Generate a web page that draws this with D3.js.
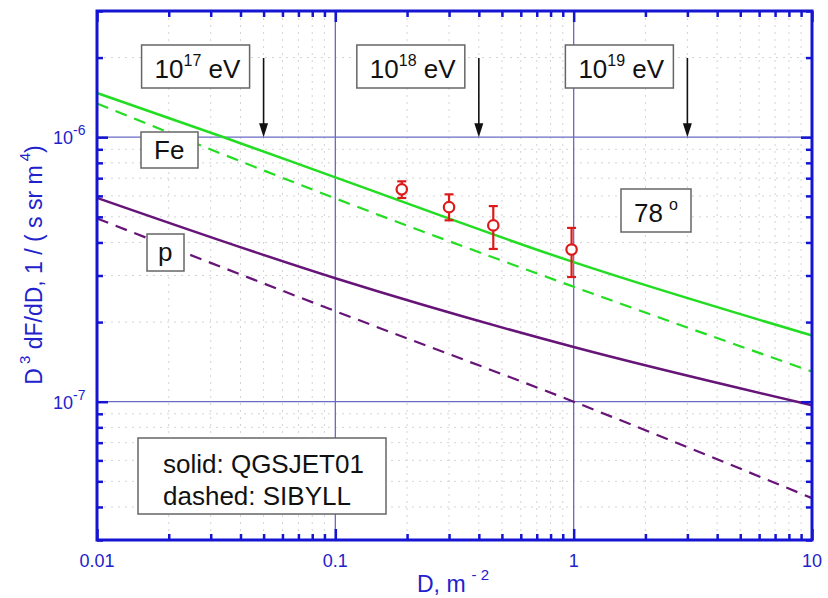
<!DOCTYPE html>
<html>
<head>
<meta charset="utf-8">
<script src="https://cdn.jsdelivr.net/npm/d3@7"></script>
<style>
  body { margin: 0; background: #fff; }
  svg { display: block; font-family: "Liberation Sans", Arial, sans-serif; }
</style>
</head>
<body>
<svg id="chart" width="828" height="598"></svg>
<script>
// model curves, D in m^-2, flux D^3 dF/dD
const feSolidD = [0.01, 0.034, 0.1, 1, 10];
const feSolid = [1.47e-6, 1.0e-6, 7.05e-7, 3.37e-7, 1.78e-7];
const feDashedD = [0.01, 0.1, 1, 10];
const feDashed = [1.34e-6, 5.87e-7, 2.72e-7, 1.30e-7];
const pSolidD = [0.01, 0.1, 1, 10];
const pSolid = [5.9e-7, 2.93e-7, 1.61e-7, 9.7e-8];
const pDashedD = [0.01, 0.1, 1, 10];
const pDashed = [4.93e-7, 2.2e-7, 1.0e-7, 4.32e-8];

// measured points with errors
const dataD = [0.19, 0.30, 0.46, 0.98];
const dataFlux = [6.35e-7, 5.44e-7, 4.64e-7, 3.76e-7];
const dataHi = [6.81e-7, 6.08e-7, 5.49e-7, 4.54e-7];
const dataLo = [5.89e-7, 4.85e-7, 3.78e-7, 2.96e-7];

// energy markers
const energyExp = ["17", "18", "19"];
const energyD = [0.05, 0.4, 3];

const xMajor = [0.01, 0.1, 1, 10];
const xMajorLabels = ["0.01", "0.1", "1", "10"];
const yMajor = [1e-7, 1e-6];
const yMajorExp = ["-7", "-6"];

const blue = "#1414d2";
const textBlue = "#2222cc";
const green = "#22dd22";
const purple = "#661477";
const red = "#dd1a1a";

const svg = d3.select("#chart");
const pLeft = 97, pRight = 812, pTop = 11, pBottom = 540;

const x = d3.scaleLog().domain([0.01, 10]).range([pLeft, pRight]);
const y = d3.scaleLog().domain([3e-8, 3e-6]).range([pBottom, pTop]);

function minors(lo, hi) {
  const out = [];
  for (let e = Math.floor(Math.log10(lo)); e <= Math.ceil(Math.log10(hi)); e++) {
    for (let m = 2; m <= 9; m++) {
      const v = m * Math.pow(10, e);
      if (v >= lo * 0.999 && v <= hi * 1.001) out.push(v);
    }
  }
  return out;
}
const xMinor = minors(0.01, 10);
const yMinor = minors(3e-8, 3e-6);

// minor grid
const grid = svg.append("g");
grid.selectAll(".gx").data(xMinor).enter().append("line")
  .attr("x1", d => x(d)).attr("x2", d => x(d))
  .attr("y1", pTop).attr("y2", pBottom)
  .attr("stroke", "#d4d4d4").attr("stroke-width", 1).attr("stroke-dasharray", "2,5");
grid.selectAll(".gy").data(yMinor).enter().append("line")
  .attr("x1", pLeft).attr("x2", pRight)
  .attr("y1", d => y(d)).attr("y2", d => y(d))
  .attr("stroke", "#d4d4d4").attr("stroke-width", 1).attr("stroke-dasharray", "2,5");

// major grid
grid.selectAll(".mx").data([0.1, 1]).enter().append("line")
  .attr("x1", d => x(d)).attr("x2", d => x(d))
  .attr("y1", pTop).attr("y2", pBottom)
  .attr("stroke", "#6a6ac4").attr("stroke-width", 1.3);
grid.selectAll(".my").data(yMajor).enter().append("line")
  .attr("x1", pLeft).attr("x2", pRight)
  .attr("y1", d => y(d)).attr("y2", d => y(d))
  .attr("stroke", "#6a6ac4").attr("stroke-width", 1.3);

// curves
const line = d3.line().x(d => x(d[0])).y(d => y(d[1])).curve(d3.curveMonotoneX);
const curves = [
  { d: feSolidD, v: feSolid, color: green, dash: null, w: 2.5 },
  { d: feDashedD, v: feDashed, color: green, dash: "12,8", w: 2.2 },
  { d: pSolidD, v: pSolid, color: purple, dash: null, w: 2.5 },
  { d: pDashedD, v: pDashed, color: purple, dash: "12,8", w: 2.2 }
];
const curveG = svg.append("g");
curves.forEach(c => {
  curveG.append("path")
    .datum(c.d.map((dd, i) => [dd, c.v[i]]))
    .attr("d", line)
    .attr("fill", "none")
    .attr("stroke", c.color)
    .attr("stroke-width", c.w)
    .attr("stroke-dasharray", c.dash);
});

// data points
const pts = svg.append("g");
dataD.forEach((dd, i) => {
  const cx = x(dd);
  pts.append("line").attr("x1", cx).attr("x2", cx)
    .attr("y1", y(dataHi[i])).attr("y2", y(dataLo[i]))
    .attr("stroke", red).attr("stroke-width", 2.2);
  [dataHi[i], dataLo[i]].forEach(v => {
    pts.append("line").attr("x1", cx - 4.5).attr("x2", cx + 4.5)
      .attr("y1", y(v)).attr("y2", y(v))
      .attr("stroke", red).attr("stroke-width", 2.2);
  });
  pts.append("circle").attr("cx", cx).attr("cy", y(dataFlux[i])).attr("r", 5.2)
    .attr("fill", "#fff").attr("stroke", red).attr("stroke-width", 2.2);
});

// annotation boxes
function box(x0, y0, w, h) {
  return svg.append("rect").attr("x", x0).attr("y", y0).attr("width", w).attr("height", h)
    .attr("fill", "#fff").attr("stroke", "#666").attr("stroke-width", 1.5);
}

energyD.forEach((dd, i) => {
  const ax = x(dd);
  box(ax - 122, 45, 108, 43);
  const t = svg.append("text").attr("x", ax - 109).attr("y", 78)
    .attr("font-size", 26).attr("fill", "#111");
  t.append("tspan").text("10");
  t.append("tspan").attr("font-size", 16).attr("dy", -12).text(energyExp[i]);
  t.append("tspan").attr("dy", 12).text(" eV");
  svg.append("line").attr("x1", ax).attr("x2", ax)
    .attr("y1", 58).attr("y2", y(1e-6) - 12)
    .attr("stroke", "#111").attr("stroke-width", 1.6);
  svg.append("path")
    .attr("d", `M${ax - 4.5},${y(1e-6) - 14} L${ax + 4.5},${y(1e-6) - 14} L${ax},${y(1e-6)} Z`)
    .attr("fill", "#111");
});

box(141, 132, 57, 36);
svg.append("text").attr("x", 154).attr("y", 159).attr("font-size", 26).attr("fill", "#111").text("Fe");

box(147, 234, 37, 37);
svg.append("text").attr("x", 158).attr("y", 261).attr("font-size", 26).attr("fill", "#111").text("p");

box(621, 189, 70, 43);
const ang = svg.append("text").attr("x", 634).attr("y", 222).attr("font-size", 26).attr("fill", "#111");
ang.append("tspan").text("78");
ang.append("tspan").attr("font-size", 16).attr("dx", 6).attr("dy", -12).text("o");

box(138, 438, 248, 76);
svg.append("text").attr("x", 163).attr("y", 473).attr("font-size", 26).attr("fill", "#111").text("solid: QGSJET01");
svg.append("text").attr("x", 163).attr("y", 505).attr("font-size", 26).attr("fill", "#111").text("dashed: SIBYLL");

// axes, ticks inward
function styleAxis(g) {
  g.select(".domain").remove();
  g.selectAll(".tick line").attr("stroke", blue).attr("stroke-width", 2.5);
}
svg.append("g").attr("transform", `translate(0,${pBottom})`)
  .call(d3.axisBottom(x).tickValues(xMajor).tickSize(-11).tickFormat(""))
  .call(styleAxis);
svg.append("g").attr("transform", `translate(0,${pBottom})`)
  .call(d3.axisBottom(x).tickValues(xMinor).tickSize(-6).tickFormat(""))
  .call(styleAxis);
svg.append("g").attr("transform", `translate(0,${pTop})`)
  .call(d3.axisTop(x).tickValues(xMajor).tickSize(-11).tickFormat(""))
  .call(styleAxis);
svg.append("g").attr("transform", `translate(0,${pTop})`)
  .call(d3.axisTop(x).tickValues(xMinor).tickSize(-6).tickFormat(""))
  .call(styleAxis);
svg.append("g").attr("transform", `translate(${pLeft},0)`)
  .call(d3.axisLeft(y).tickValues(yMajor).tickSize(-11).tickFormat(""))
  .call(styleAxis);
svg.append("g").attr("transform", `translate(${pLeft},0)`)
  .call(d3.axisLeft(y).tickValues(yMinor).tickSize(-6).tickFormat(""))
  .call(styleAxis);
svg.append("g").attr("transform", `translate(${pRight},0)`)
  .call(d3.axisRight(y).tickValues(yMajor).tickSize(-11).tickFormat(""))
  .call(styleAxis);
svg.append("g").attr("transform", `translate(${pRight},0)`)
  .call(d3.axisRight(y).tickValues(yMinor).tickSize(-6).tickFormat(""))
  .call(styleAxis);

svg.append("rect").attr("x", pLeft).attr("y", pTop).attr("width", pRight - pLeft).attr("height", pBottom - pTop)
  .attr("fill", "none").attr("stroke", blue).attr("stroke-width", 3);

// tick labels
svg.append("g").selectAll("text").data(xMajor).enter().append("text")
  .attr("x", d => x(d)).attr("y", 567)
  .attr("text-anchor", "middle").attr("font-size", 18).attr("fill", textBlue)
  .text((d, i) => xMajorLabels[i]);

yMajor.forEach((v, i) => {
  const t = svg.append("text").attr("x", 53).attr("y", y(v) + 7)
    .attr("font-size", 18).attr("fill", textBlue);
  t.append("tspan").text("10");
  t.append("tspan").attr("font-size", 14).attr("dy", -9).text(yMajorExp[i]);
});

// axis titles
const xt = svg.append("text").attr("x", 417).attr("y", 592).attr("font-size", 23).attr("fill", textBlue);
xt.append("tspan").text("D, m");
xt.append("tspan").attr("font-size", 15).attr("dx", 6).attr("dy", -12).text("- 2");

const yt = svg.append("text").attr("transform", "translate(42,265) rotate(-90)")
  .attr("text-anchor", "middle").attr("font-size", 23).attr("fill", textBlue);
yt.append("tspan").text("D");
yt.append("tspan").attr("font-size", 15).attr("dx", 4).attr("dy", -12).text("3");
yt.append("tspan").attr("dy", 12).text(" dF/dD, 1 / ( s sr m");
yt.append("tspan").attr("font-size", 15).attr("dx", 4).attr("dy", -12).text("4");
yt.append("tspan").attr("dy", 12).text(")");
</script>
</body>
</html>
